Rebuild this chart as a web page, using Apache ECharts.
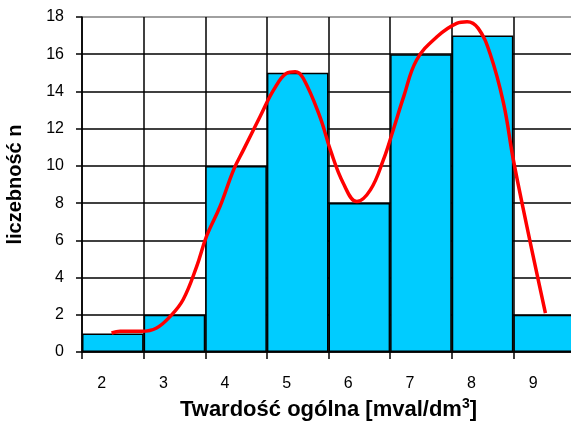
<!DOCTYPE html>
<html>
<head>
<meta charset="utf-8">
<script src="https://cdn.jsdelivr.net/npm/echarts@6/dist/echarts.min.js"></script>
<style>
  html, body { margin: 0; padding: 0; background: #fff; }
  #chart { width: 571px; height: 421px; }
</style>
</head>
<body>
<div id="chart"></div>
<script>
// klasy twardości (etykiety osi X)
var classes = ['2', '3', '4', '5', '6', '7', '8', '9'];
// liczebność w klasach
var counts = [1, 2, 10, 15, 8, 16, 17, 2];
// krzywa wygładzona: położenie w jednostkach klas i wartość
var curveX = [0.48, 0.62, 0.97, 1.21, 1.43, 1.64, 1.86, 2.02, 2.24, 2.46, 2.62, 2.89, 3.11, 3.32, 3.46,
  3.59, 3.86, 4.03, 4.24, 4.46, 4.68, 4.89, 5.05, 5.22, 5.43, 5.76, 6.08, 6.25, 6.43, 6.62, 6.84,
  7.00, 7.22, 7.38, 7.52];
var curveY = [1.02, 1.11, 1.11, 1.29, 1.91, 2.81, 4.59, 6.21, 7.82, 9.79, 10.86, 12.65, 14.08, 14.98, 15.06,
  14.71, 12.65, 10.86, 9.07, 8.08, 8.71, 10.32, 11.93, 13.72, 15.69, 16.94, 17.66, 17.75, 17.39, 16.05, 13.37,
  10.32, 6.74, 4.24, 2.09];

var curve = [];
for (var i = 0; i < curveX.length; i++) {
  curve.push([curveX[i], curveY[i]]);
}

var font = '"Liberation Sans", Arial, sans-serif';
// linie siatki poziomej: górna krawędź szara
var hLines = ['#000', '#000', '#000', '#000', '#000', '#000', '#000', '#000', '#000', '#808080'];

var chart = echarts.init(document.getElementById('chart'));
chart.setOption({
  animation: false,
  textStyle: { fontFamily: font },
  grid: { left: 82, top: 17, right: -4, bottom: 69, outerBoundsMode: 'none' },
  xAxis: [{
    type: 'category',
    data: classes,
    boundaryGap: true,
    axisLine: { lineStyle: { color: '#000', width: 1.5 } },
    axisTick: { show: true, length: 7, lineStyle: { color: '#000', width: 1.5 } },
    splitLine: { show: true, lineStyle: { color: '#000', width: 1.5 } },
    axisLabel: { color: '#000', fontSize: 16, margin: 24, padding: [0, 22, 0, 0] },
    name: '{a|Twardość ogólna [mval/dm}{s|3}{a|]}',
    nameLocation: 'middle',
    nameGap: 42,
    nameTextStyle: {
      rich: {
        a: { fontSize: 22, fontWeight: 'bold', color: '#000', fontFamily: font },
        s: { fontSize: 14, fontWeight: 'bold', color: '#000', fontFamily: font, padding: [0, 0, 12, 0] }
      }
    }
  }, {
    type: 'value',
    min: 0,
    max: 8,
    show: false
  }],
  yAxis: {
    type: 'value',
    min: 0,
    max: 18,
    interval: 2,
    axisLine: { show: true, lineStyle: { color: '#000', width: 1.5 } },
    axisTick: { show: true, length: 6, lineStyle: { color: '#000', width: 1.5 } },
    splitLine: { show: true, lineStyle: { color: hLines, width: 1.5 } },
    axisLabel: { color: '#000', fontSize: 16, margin: 18 },
    name: 'liczebność n',
    nameLocation: 'middle',
    nameGap: 57,
    nameTextStyle: { fontSize: 20, fontWeight: 'bold', color: '#000' }
  },
  series: [{
    type: 'bar',
    data: counts,
    barCategoryGap: '0%',
    itemStyle: { color: '#00CCFF', borderColor: '#000', borderWidth: 1.5 },
    z: 2
  }, {
    type: 'line',
    xAxisIndex: 1,
    data: curve,
    smooth: 0.4,
    symbol: 'none',
    lineStyle: { color: '#FF0000', width: 3.5 },
    z: 5
  }]
});
</script>
</body>
</html>
